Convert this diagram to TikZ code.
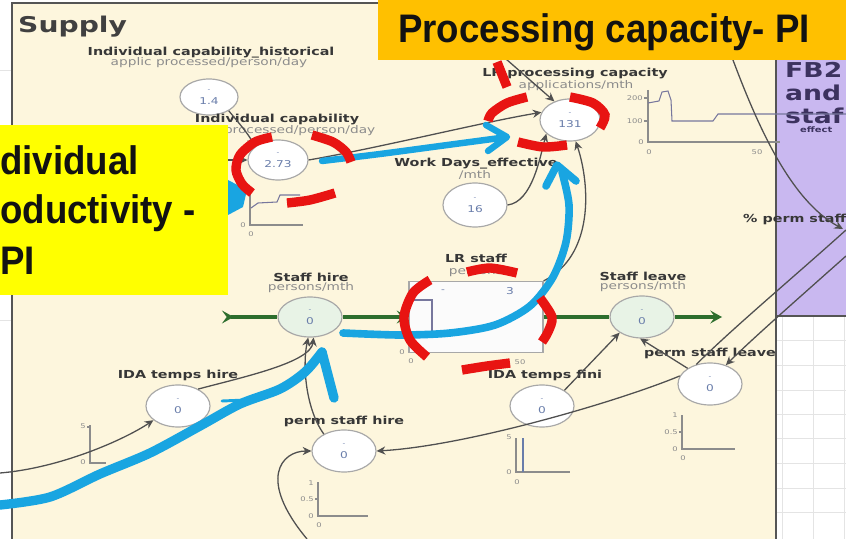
\documentclass[tikz,border=0pt]{standalone}
\usepackage{fontspec}
\usetikzlibrary{arrows.meta,shapes.geometric}
\newfontfamily\stl[FakeStretch=1.3]{DejaVu Sans}
\newfontfamily\ppt[FakeStretch=0.92]{Liberation Sans}

\definecolor{cream}{RGB}{253,246,221}
\definecolor{lav}{RGB}{201,184,240}
\definecolor{gold}{RGB}{255,192,0}
\definecolor{hiyel}{RGB}{255,255,0}
\definecolor{pen}{RGB}{80,80,80}
\definecolor{ringgray}{RGB}{168,168,168}
\definecolor{axisgray}{RGB}{140,140,140}
\definecolor{lbl}{RGB}{55,55,55}
\definecolor{unitc}{RGB}{140,140,140}
\definecolor{valc}{RGB}{105,125,170}
\definecolor{mint}{RGB}{232,243,230}
\definecolor{pipeg}{RGB}{45,110,45}
\definecolor{mark}{RGB}{232,20,18}
\definecolor{sky}{RGB}{25,165,225}
\definecolor{plum}{RGB}{60,50,95}
\definecolor{gridc}{RGB}{228,228,228}
\definecolor{framec}{RGB}{85,85,85}

\newcommand{\auxval}[1]{{\fontsize{5}{5}\selectfont -}\\[2pt]#1}

\tikzset{
  conn/.style={draw=pen, line width=1.1pt, -{Stealth[length=7.5pt,width=7pt,inset=2.5pt]}},
  link/.style={draw=pen, line width=1.1pt},
  aux/.style={ellipse, draw=ringgray, line width=1pt, fill=white, inner sep=0pt,
    minimum width=1.92cm, minimum height=1.26cm, align=center,
    font=\stl\fontsize{8}{8.5}\selectfont, text=valc},
  valve/.style={aux, fill=mint, minimum height=1.2cm},
  lab/.style={font=\stl\bfseries\fontsize{9.4}{10}\selectfont, text=lbl, inner sep=0pt},
  unit/.style={font=\stl\fontsize{9}{10}\selectfont, text=unitc, inner sep=0pt},
  tick/.style={font=\stl\fontsize{5.5}{6}\selectfont, text=axisgray, inner sep=0pt},
  axis/.style={draw=axisgray, line width=1pt},
  trace/.style={draw=axisgray!85!blue, line width=0.9pt},
  pipe/.style={draw=pipeg, line width=3.4pt},
  ring/.style={draw=mark, line width=8pt},
  hl/.style={draw=sky, line width=6.5pt, line cap=round, line join=round},
  big/.style={font=\ppt\bfseries\fontsize{34}{36}\selectfont, text=black!93, inner sep=0pt},
  fbtext/.style={font=\stl\bfseries\fontsize{17.5}{18}\selectfont, text=plum, inner sep=0pt, anchor=base west},
}

\begin{document}
\begin{tikzpicture}[x=0.03cm,y=-0.03cm]
\useasboundingbox (0,0) rectangle (846,539);
\fill[white] (0,0) rectangle (846,539);

% left margin grid
\foreach \gy in {70,320} \draw[gridc, line width=0.6pt] (0,\gy) -- (12,\gy);

% Supply sector
\fill[cream] (12,3) rectangle (776,539);
\draw[framec, line width=1.2pt] (12,539) -- (12,3) -- (378,3);
\node[font=\stl\bfseries\fontsize{18.5}{20}\selectfont, text=black!75, anchor=base west, inner sep=0pt] (supply) at (18,33) {Supply};

% neighbouring sector and sheet cells
\fill[lav] (776,60) rectangle (846,316);
\fill[white] (776,316) rectangle (846,539);
\foreach \gy in {340,365,390,414,438,463,488,512} \draw[gridc, line width=0.6pt] (777,\gy) -- (846,\gy);
\foreach \gx in {782,813,844} \draw[gridc, line width=0.6pt] (\gx,317) -- (\gx,539);
\draw[framec, line width=1.2pt] (776,316) -- (846,316);
\draw[framec, line width=1.2pt] (776,60) -- (776,539);
\node[fbtext] (fbA) at (785,78) {FB2};
\node[fbtext] (fbB) at (785,101) {and};
\node[fbtext] (fbC) at (785,124) {staf};
\node[font=\stl\bfseries\fontsize{6.5}{7}\selectfont, text=plum, anchor=base west, inner sep=0pt] (fbD) at (800,133) {effect};
\node[lab, anchor=base west] (pct) at (743,223) {\% perm staff};

% ---- converters and valves
\node[aux, minimum width=1.74cm, minimum height=1.08cm] (hist) at (209,97) {\auxval{1.4}};
\node[lab] (histL) at (211,53) {Individual capability\_historical};
\node[unit] (histU) at (209,63) {applic processed/person/day};

\node[aux, minimum width=1.8cm, minimum height=1.2cm] (indcap) at (278,160) {\auxval{2.73}};
\node[lab] (indcapL) at (277,120) {Individual capability};
\node[unit] (indcapU) at (277,131) {applic processed/person/day};

\node[aux, minimum width=1.8cm, minimum height=1.26cm] (lrpc) at (570,120) {\auxval{131}};
\node[lab] (lrpcL) at (575,74) {LR processing capacity};
\node[unit] (lrpcU) at (576,86) {applications/mth};

\node[aux, minimum height=1.32cm] (work) at (475,205) {\auxval{16}};
\node[lab] (workL) at (476,164) {Work Days\_effective};
\node[unit] (workU) at (475,175) {/mth};

\node[draw=ringgray, line width=1pt, fill=white!97!gray, rectangle, minimum width=4.02cm, minimum height=2.13cm, inner sep=0pt] (stock) at (476,317) {};
\node[lab] (stockL) at (476,258) {LR staff};
\node[unit] (stockU) at (476,273) {persons};
\node[font=\stl\fontsize{7}{8}\selectfont, text=valc, inner sep=0pt] (stockA) at (443,291) {-};
\node[font=\stl\fontsize{8}{8.5}\selectfont, text=valc, inner sep=0pt] (stockB) at (510,291) {3};

\node[valve] (hire) at (310,317) {\auxval{0}};
\node[lab] (hireL) at (311,277) {Staff hire};
\node[unit] (hireU) at (311,288) {persons/mth};

\node[valve, minimum height=1.26cm] (leave) at (642,317) {\auxval{0}};
\node[lab] (leaveL) at (643,276) {Staff leave};
\node[unit] (leaveU) at (643,287) {persons/mth};

\node[aux] (idah) at (178,406) {\auxval{0}};
\node[lab] (idahL) at (178,375) {IDA temps hire};

\node[aux] (psh) at (344,451) {\auxval{0}};
\node[lab] (pshL) at (344,421) {perm staff hire};

\node[aux] (idaf) at (542,406) {\auxval{0}};
\node[lab] (idafL) at (545,375) {IDA temps fini};

\node[aux] (psl) at (710,384) {\auxval{0}};
\node[lab] (pslL) at (710,353) {perm staff leave};

% ---- small graphs
\draw[axis] (250,190) -- (250,225) -- (303,225);
\draw[trace] (251,208) -- (258,203) -- (277,202) -- (280,195) -- (300,195);
\node[tick, anchor=east] (g1a) at (246,225) {0};
\node[tick] (g1b) at (251,234) {0};

\draw[axis] (648,90) -- (648,142) -- (780,142);
\draw[axis] (644,98) -- (648,98) (644,121) -- (648,121);
\draw[trace] (648,103) -- (659,101) -- (662,92) -- (668,91) -- (671,100) -- (672,121) -- (713,121) -- (718,114) -- (846,114);
\node[tick, anchor=east] (g2a) at (643,98) {200};
\node[tick, anchor=east] (g2b) at (643,121) {100};
\node[tick, anchor=east] (g2c) at (644,142) {0};
\node[tick] (g2d) at (649,152) {0};
\node[tick] (g2e) at (757,152) {50};

\draw[trace] (414,300) -- (432,300) -- (432,332);
\node[tick, anchor=east] (g3a) at (405,352) {0};
\node[tick] (g3b) at (411,361) {0};
\node[tick] (g3c) at (520,362) {50};

\draw[axis] (90,425) -- (90,463) -- (106,463);
\draw[axis] (87,427) -- (90,427);
\node[tick, anchor=east] (g4a) at (86,426) {5};
\node[tick, anchor=east] (g4b) at (86,462) {0};

\draw[axis] (318,482) -- (318,516) -- (368,516);
\draw[axis] (315,499) -- (318,499);
\node[tick, anchor=east] (g5a) at (314,483) {1};
\node[tick, anchor=east] (g5b) at (314,499) {0.5};
\node[tick, anchor=east] (g5c) at (314,516) {0};
\node[tick] (g5d) at (319,525) {0};

\draw[axis] (516,438) -- (516,472) -- (570,472);
\draw[trace, draw=valc] (523,438) -- (523,472);
\node[tick, anchor=east] (g6a) at (512,437) {5};
\node[tick, anchor=east] (g6b) at (512,472) {0};
\node[tick] (g6c) at (517,482) {0};

\draw[axis] (682,415) -- (682,449) -- (735,449);
\draw[axis] (679,432) -- (682,432);
\node[tick, anchor=east] (g7a) at (678,415) {1};
\node[tick, anchor=east] (g7b) at (678,432) {0.5};
\node[tick, anchor=east] (g7c) at (678,449) {0};
\node[tick] (g7d) at (683,458) {0};

% ---- flow pipe
\coordinate (src) at (222,317);
\coordinate (snk) at (722,317);
\draw[pipe, {Stealth[length=10pt,width=11pt,inset=4pt,reversed]}-] (src) -- (hire.west);
\draw[pipe, -{Stealth[length=10pt,width=11pt,inset=4pt]}] (hire.east) -- (stock.west);
\draw[pipe] (stock.east) -- (leave.west);
\draw[pipe, -{Stealth[length=10pt,width=11pt,inset=4pt]}] (leave.east) -- (snk);

% ---- connectors
\coordinate (icin) at (212,160);
\coordinate (pcin) at (498,52);
\coordinate (tt) at (730,52);
\coordinate (pctin) at (843,229);
\coordinate (la) at (846,230);
\coordinate (lb) at (846,256);
\coordinate (idin) at (0,473);
\coordinate (pshin) at (307,539);

\draw[conn] (hist.-35) .. controls +(10,12) and +(-6,-12) .. (indcap.150);
\draw[conn] (icin) -- (indcap.west);
\draw[conn] (indcap.east) .. controls +(70,-12) and +(-60,10) .. (lrpc.165);
\draw[conn] (pcin) -- (lrpc.130);
\draw[conn] (work.east) .. controls +(25,-3) and +(-6,22) .. (lrpc.-150);
\draw[conn] (stock.north east) .. controls +(50,-25) and +(15,45) .. (lrpc.-75);
\draw[conn] (tt) .. controls +(27,73) and +(-53,-29) .. (pctin);
\draw[conn] (idah.40) .. controls +(45,-12) and +(-3,25) .. (hire.-80);
\draw[conn] (psh.140) .. controls +(-18,-25) and +(-6,28) .. (hire.-95);
\draw[conn] (pshin) .. controls +(-50,-60) and +(-30,0) .. (psh.west);
\draw[link] (la) .. controls +(-50,45) and +(35,-35) .. (psl.125);
\draw[conn] (psl.165) .. controls +(-60,25) and +(90,-5) .. (psh.east);
\draw[conn] (lb) .. controls +(-45,40) and +(25,-25) .. (psl.50);
\draw[conn] (psl.145) -- (leave.-95);
\draw[conn] (idaf.35) -- (leave.-145);
\draw[conn] (idin) .. controls +(60,-5) and +(-30,20) .. (idah.-150);

% ---- blue pen strokes
\fill[sky] (228,180) -- (247,190) -- (243,207) -- (228,215) -- cycle;
\draw[hl, line width=5.5pt] plot[smooth] coordinates {(322,161) (380,154) (440,146) (500,138)};
\draw[hl, line width=5.5pt] (486,125) -- (507,137) -- (488,151);
\draw[hl, line width=8pt] plot[smooth] coordinates {(0,505) (50,497) (100,474) (150,453) (200,426) (240,404) (280,389) (305,372) (322,352)};
\draw[hl, line width=8pt] (322,352) -- (334,398);
\draw[hl, line width=2.5pt] (246,400) -- (222,401);
\draw[hl] plot[smooth] coordinates {(343,333) (400,335) (450,333) (495,325) (530,306) (553,277) (566,242) (569,205) (562,172)};
\draw[hl] (546,186) -- (557,165) -- (576,181);

% ---- red pen strokes
\draw[ring] plot[smooth] coordinates {(272,137) (255,142) (240,155) (236,170) (242,184) (252,193)};
\draw[ring] plot[smooth] coordinates {(312,135) (333,142) (346,152) (351,162)};
\draw[ring] plot[smooth] coordinates {(287,203) (310,200) (335,193)};
\draw[ring] plot[smooth] coordinates {(527,97) (507,103) (492,113) (488,121)};
\draw[ring] plot[smooth] coordinates {(570,97) (593,103) (605,115) (600,128)};
\draw[ring] plot[smooth] coordinates {(518,142) (543,147) (567,145)};
\draw[ring] (497,62) -- (507,87);
\draw[ring] plot[smooth] coordinates {(430,280) (413,293) (404,317) (410,340) (427,357)};
\draw[ring] plot[smooth] coordinates {(467,272) (490,268) (517,273)};
\draw[ring] plot[smooth] coordinates {(540,298) (552,317) (548,332) (542,342)};
\draw[ring] plot[smooth] coordinates {(462,370) (487,366) (510,363)};

% ---- callouts
\fill[hiyel] (0,125) rectangle (228,295);
\node[big, anchor=base west] (yA) at (0,175) {dividual};
\node[big, anchor=base west] (yB) at (0,224) {oductivity -};
\node[big, anchor=base west] (yC) at (0,274) {PI};
\fill[gold] (378,0) rectangle (846,60);
\node[big, anchor=base west] (title) at (398,43) {Processing capacity- PI};
\end{tikzpicture}
\end{document}
